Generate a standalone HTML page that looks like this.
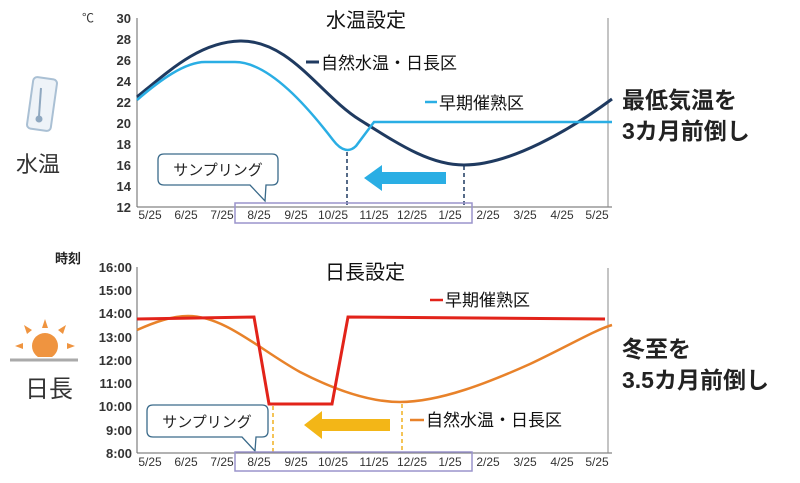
<!DOCTYPE html>
<html><head><meta charset="utf-8"><style>
body{margin:0;background:#fff;}
svg text{font-family:"Liberation Sans","Noto Sans CJK JP",sans-serif;}
</style></head><body>
<svg width="800" height="478" viewBox="0 0 800 478" xmlns="http://www.w3.org/2000/svg">
<!-- TOP CHART -->
<g font-size="13" fill="#333" font-weight="bold" text-anchor="end">
<text x="131" y="23">30</text><text x="131" y="44">28</text><text x="131" y="65">26</text><text x="131" y="86">24</text><text x="131" y="107">22</text><text x="131" y="128">20</text><text x="131" y="149">18</text><text x="131" y="170">16</text><text x="131" y="191">14</text><text x="131" y="212">12</text>
</g>
<text x="82" y="22" font-size="12" fill="#333">℃</text>
<line x1="137" y1="18" x2="137" y2="207" stroke="#666"/>
<line x1="137" y1="207" x2="612" y2="207" stroke="#666"/>
<line x1="608" y1="18" x2="608" y2="207" stroke="#888"/>
<g font-size="12" fill="#333" text-anchor="middle">
<text x="150" y="219">5/25</text><text x="186" y="219">6/25</text><text x="222" y="219">7/25</text><text x="259" y="219">8/25</text><text x="296" y="219">9/25</text><text x="333" y="219">10/25</text><text x="374" y="219">11/25</text><text x="412" y="219">12/25</text><text x="450" y="219">1/25</text><text x="488" y="219">2/25</text><text x="525" y="219">3/25</text><text x="562" y="219">4/25</text><text x="597" y="219">5/25</text>
</g>
<text x="366" y="27" font-size="20" text-anchor="middle" fill="#111">水温設定</text>
<path d="M137,97 C170,70 200,42 240,41 C290,40 320,95 360,120 C400,145 430,165 464,165 C510,165 570,130 612,99" fill="none" stroke="#1f3a60" stroke-width="3"/>
<path d="M137,100 C160,80 185,62 205,62 L235,62 C270,62 310,110 333,140 C342,152 350,152 356,146 L374,122 L612,122" fill="none" stroke="#2aaee4" stroke-width="2.5"/>
<line x1="347" y1="152" x2="347" y2="207" stroke="#1f3a60" stroke-width="1.5" stroke-dasharray="4,3"/>
<line x1="464" y1="166" x2="464" y2="207" stroke="#1f3a60" stroke-width="1.5" stroke-dasharray="4,3"/>
<polygon points="446,172 382,172 382,165 364,178 382,191 382,184 446,184" fill="#2aaee4"/>
<line x1="306" y1="62" x2="319" y2="62" stroke="#1f3a60" stroke-width="3"/>
<text x="321" y="69" font-size="17" fill="#111">自然水温・日長区</text>
<line x1="425" y1="102" x2="437" y2="102" stroke="#2aaee4" stroke-width="2.5"/>
<text x="439" y="109" font-size="17" fill="#111">早期催熟区</text>
<path d="M164,154 L272,154 Q278,154 278,160 L278,179 Q278,185 272,185 L266,185 L265,201 L250,185 L164,185 Q158,185 158,179 L158,160 Q158,154 164,154 Z" fill="#fff" stroke="#3a6a8a" stroke-width="1.3"/>
<text x="218" y="175" font-size="15" text-anchor="middle" fill="#222">サンプリング</text>
<rect x="235" y="203" width="237" height="20" fill="none" stroke="#9a94cc" stroke-width="1.5"/>
<!-- thermometer -->
<rect x="30" y="78" width="24" height="52" rx="4" transform="rotate(8 42 104)" fill="#eef3f8" stroke="#aac0d4" stroke-width="2"/>
<line x1="41" y1="88" x2="39" y2="116" stroke="#8fa8c0" stroke-width="2"/>
<circle cx="39" cy="119" r="3.5" fill="#8fa8c0"/>
<text x="16" y="172" font-size="22" fill="#333">水温</text>
<text x="622" y="108" font-size="23" font-weight="bold" fill="#222">最低気温を</text>
<text x="622" y="139" font-size="23" font-weight="bold" fill="#222">3カ月前倒し</text>

<!-- BOTTOM CHART -->
<g font-size="13" fill="#333" font-weight="bold" text-anchor="end">
<text x="132" y="272">16:00</text><text x="132" y="295">15:00</text><text x="132" y="318">14:00</text><text x="132" y="342">13:00</text><text x="132" y="365">12:00</text><text x="132" y="388">11:00</text><text x="132" y="411">10:00</text><text x="132" y="435">9:00</text><text x="132" y="458">8:00</text>
</g>
<text x="55" y="263" font-size="13" font-weight="bold" fill="#222">時刻</text>
<line x1="137" y1="267" x2="137" y2="453" stroke="#666"/>
<line x1="137" y1="453" x2="612" y2="453" stroke="#666"/>
<line x1="608" y1="268" x2="608" y2="453" stroke="#888"/>
<g font-size="12" fill="#333" text-anchor="middle">
<text x="150" y="466">5/25</text><text x="186" y="466">6/25</text><text x="222" y="466">7/25</text><text x="259" y="466">8/25</text><text x="296" y="466">9/25</text><text x="333" y="466">10/25</text><text x="374" y="466">11/25</text><text x="412" y="466">12/25</text><text x="450" y="466">1/25</text><text x="488" y="466">2/25</text><text x="525" y="466">3/25</text><text x="562" y="466">4/25</text><text x="597" y="466">5/25</text>
</g>
<text x="365" y="279" font-size="20" text-anchor="middle" fill="#111">日長設定</text>
<path d="M137,330 C155,322 172,316 188,316 C225,316 260,350 300,372 C335,390 370,402 400,402 C440,402 490,382 530,364 C570,345 595,330 612,325" fill="none" stroke="#e8822a" stroke-width="2.5"/>
<polyline points="137,319 254,317 269,404 332,404 348,317 605,319" fill="none" stroke="#e2231a" stroke-width="3"/>
<line x1="273" y1="406" x2="273" y2="453" stroke="#f0b020" stroke-width="1.5" stroke-dasharray="4,3"/>
<line x1="402" y1="404" x2="402" y2="453" stroke="#f0b020" stroke-width="1.5" stroke-dasharray="4,3"/>
<polygon points="390,419 322,419 322,411 304,425 322,439 322,431 390,431" fill="#f3b617"/>
<line x1="430" y1="300" x2="443" y2="300" stroke="#e2231a" stroke-width="2.5"/>
<text x="445" y="306" font-size="17" fill="#111">早期催熟区</text>
<line x1="410" y1="420" x2="424" y2="420" stroke="#e8822a" stroke-width="2.5"/>
<text x="426" y="426" font-size="17" fill="#111">自然水温・日長区</text>
<path d="M153,405 L262,405 Q268,405 268,411 L268,431 Q268,437 262,437 L256,437 L255,451 L242,437 L153,437 Q147,437 147,431 L147,411 Q147,405 153,405 Z" fill="#fff" stroke="#3a6a8a" stroke-width="1.3"/>
<text x="207" y="427" font-size="15" text-anchor="middle" fill="#222">サンプリング</text>
<rect x="235" y="452" width="237" height="19" fill="none" stroke="#9a94cc" stroke-width="1.5"/>
<!-- sun -->
<circle cx="45" cy="346" r="13" fill="#ef9440"/>
<polygon points="42,328 48,328 45,319" fill="#ef9440"/>
<polygon points="27,334 32,330 24,325" fill="#ef9440"/>
<polygon points="58,330 63,334 66,325" fill="#ef9440"/>
<polygon points="23,343 23,349 15,346" fill="#ef9440"/>
<polygon points="67,343 67,349 75,346" fill="#ef9440"/>
<rect x="10" y="357" width="68" height="4" fill="#fff"/>
<line x1="10" y1="360" x2="78" y2="360" stroke="#aaa" stroke-width="3"/>
<text x="25" y="397" font-size="24" fill="#333">日長</text>
<text x="622" y="357" font-size="23" font-weight="bold" fill="#222">冬至を</text>
<text x="622" y="388" font-size="23" font-weight="bold" fill="#222">3.5カ月前倒し</text>
</svg>
</body></html>
